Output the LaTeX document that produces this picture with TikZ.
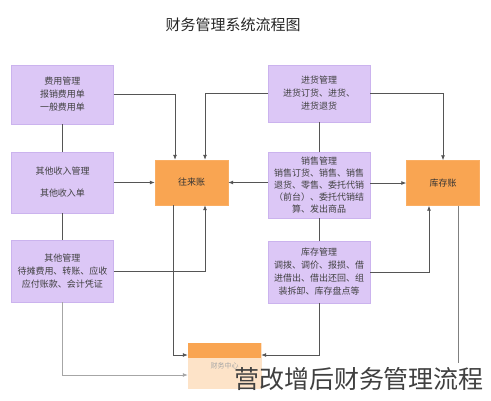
\documentclass[tikz,border=0pt]{standalone}
\usepackage{fontspec}
\setmainfont{Noto Sans CJK SC}
\usetikzlibrary{arrows.meta}
\definecolor{boxpurple}{HTML}{DCC7F6}
\definecolor{boxedge}{HTML}{CBB3EE}
\definecolor{acctorange}{HTML}{F9A552}
\definecolor{paleorange}{HTML}{FDE3C8}
\definecolor{linegray}{HTML}{555555}
\begin{document}
\begin{tikzpicture}[x=1pt,y=-1pt,
  modbox/.style={draw=boxedge, fill=boxpurple, align=center, text=black!75, font=\fontsize{9}{13}\selectfont, inner xsep=5pt, inner ysep=0pt, text width=92pt},
  ledger/.style={draw=acctorange!90, fill=acctorange, text=black!80, font=\fontsize{9}{11}\selectfont, minimum width=73pt, minimum height=45pt, inner sep=0pt},
  link/.style={draw=linegray, line width=.8pt, -{Latex[length=5pt,width=4pt]}},
  plain/.style={draw=linegray, line width=.8pt}]
\useasboundingbox (0,0) rectangle (491,400);
\node[font=\fontsize{15}{15}\selectfont, text=black!85] (title) at (233,25) {财务管理系统流程图};
\node[modbox, minimum height=59pt] (fee) at (62.5,94.5) {费用管理\\报销费用单\\一般费用单};
\node[modbox, minimum height=61pt] (income) at (62.5,182.5) {其他收入管理\\[9pt]其他收入单};
\node[modbox, minimum height=62pt] (other) at (62.5,271) {其他管理\\待摊费用、转账、应收\\应付账款、会计凭证};
\node[modbox, minimum height=57pt] (purchase) at (319,93.5) {进货管理\\进货订货、进货、\\进货退货};
\node[modbox, minimum height=66pt, font=\fontsize{9}{12}\selectfont] (sales) at (319,185) {销售管理\\销售订货、销售、销售\\退货、零售、委托代销\\（前台）、委托代销结\\算、发出商品};
\node[modbox, minimum height=62pt] (stock) at (319,272) {库存管理\\调拨、调价、报损、借\\进借出、借出还回、组\\装拆卸、库存盘点等};
\node[ledger] (dealings) at (191.5,182.5) {往来账};
\node[ledger] (inventory) at (443,183) {库存账};
\node[ledger, fill=paleorange, draw=paleorange, text=black!35, font=\fontsize{7}{8}\selectfont] (finance) at (224.5,365.5) {财务中心};
\fill[acctorange] (finance.north west) rectangle ([yshift=-15pt]finance.north east);
\coordinate (fade) at (458,363);
\draw[link] (fee.east) -| ([xshift=-16.5pt]dealings.north);
\draw[link] (purchase.west) -| ([xshift=13.5pt]dealings.north);
\draw[link] (purchase.east) -| (inventory.north);
\draw[link] (income.east) -- (dealings.west);
\draw[link] (sales.west |- dealings) -- (dealings.east);
\draw[link] (sales.east |- inventory) -- (inventory.west);
\draw[plain] (fee.south) -- (income.north);
\draw[plain] (income.south) -- (other.north);
\draw[plain] (purchase.south) -- (sales.north);
\draw[plain] (sales.south) -- (stock.north);
\draw[link] (other.east) -| ([xshift=13.5pt]dealings.south);
\draw[link] ([xshift=-18.5pt]dealings.south) |- ([yshift=10.5pt]finance.west);
\draw[link, draw=gray!70] (other.south) |- ([yshift=-9.5pt]finance.west);
\draw[link] (stock.south) |- ([yshift=10.5pt]finance.east);
\draw[link] (stock.east) -| ([xshift=-14pt]inventory.south);
\draw[plain, draw=gray] ([xshift=15pt]inventory.south) -- (fade);
\node[font=\fontsize{25}{25}\selectfont, text=black!75] (watermark) at (359,379) {营改增后财务管理流程};
\end{tikzpicture}
\end{document}
